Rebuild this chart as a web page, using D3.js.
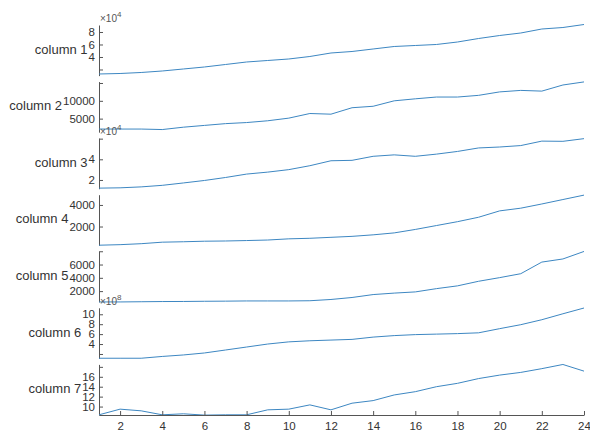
<!DOCTYPE html>
<html>
<head>
<meta charset="utf-8">
<script src="https://cdn.jsdelivr.net/npm/d3@7"></script>
<style>
  body { margin: 0; background: white; }
  svg { font-family: "Liberation Sans", Arial, sans-serif; }
</style>
</head>
<body>
<div id="chart"></div>
<script>
var xValues = [1, 2, 3, 4, 5, 6, 7, 8, 9, 10, 11, 12, 13, 14, 15, 16, 17, 18, 19, 20, 21, 22, 23, 24];

var column1 = [12800, 13600, 15200, 17600, 20800, 24000, 28000, 32000, 34400, 36800, 40800, 46400, 48800, 52800, 56800, 58400, 60000, 64000, 69600, 74400, 78400, 84800, 87200, 92000];
var column2 = [2080, 2080, 2080, 1940, 2600, 3100, 3600, 3900, 4400, 5140, 6440, 6250, 8060, 8470, 10000, 10560, 11060, 11060, 11530, 12500, 12920, 12720, 14440, 15300];
var column3 = [12100, 12400, 13300, 14800, 17100, 19500, 22400, 25700, 27600, 30000, 33800, 38600, 39000, 42900, 44300, 42900, 45000, 47600, 51000, 51900, 53300, 57600, 57400, 60000];
var column4 = [270, 320, 410, 550, 590, 640, 660, 700, 750, 860, 910, 1000, 1090, 1230, 1410, 1730, 2090, 2450, 2860, 3450, 3700, 4090, 4500, 4910];
var column5 = [370, 370, 400, 430, 440, 470, 490, 520, 520, 520, 550, 740, 1040, 1480, 1700, 1880, 2370, 2790, 3480, 4030, 4620, 6370, 6840, 7970];
var column6 = [1.14e8, 1.14e8, 1.14e8, 1.5e8, 1.8e8, 2.2e8, 2.8e8, 3.4e8, 4.0e8, 4.44e8, 4.66e8, 4.8e8, 4.94e8, 5.4e8, 5.7e8, 5.9e8, 6.0e8, 6.1e8, 6.26e8, 7.1e8, 7.9e8, 8.9e8, 10.1e8, 11.26e8];
var column7 = [8.34, 9.48, 9.14, 8.34, 8.54, 8.28, 8.34, 8.34, 9.34, 9.48, 10.34, 9.34, 10.68, 11.2, 12.34, 13.0, 14.0, 14.68, 15.64, 16.34, 16.88, 17.64, 18.48, 17.14];

var names = ["column 1", "column 2", "column 3", "column 4", "column 5", "column 6", "column 7"];
var series = [column1, column2, column3, column4, column5, column6, column7];

// y limits of each panel
var yLimits = [[10200, 91200], [1200, 15400], [11500, 60500], [260, 4950], [380, 8000], [1.1e8, 11.3e8], [8.3, 18.5]];
var yTicks = [
  [20000, 40000, 60000, 80000],
  [5000, 10000, 15000],
  [20000, 40000, 60000],
  [2000, 4000],
  [2000, 4000, 6000, 8000],
  [2e8, 4e8, 6e8, 8e8, 10e8],
  [10, 12, 14, 16, 18]
];
var yTickLabels = [
  ["", "4", "6", "8"],
  ["5000", "10000", ""],
  ["2", "4", ""],
  ["2000", "4000"],
  ["2000", "4000", "6000", ""],
  ["", "4", "6", "8", "10"],
  ["10", "12", "14", "16", ""]
];
var exponents = ["4", "", "4", "", "", "8", ""];
var xTicks = [2, 4, 6, 8, 10, 12, 14, 16, 18, 20, 22, 24];

var width = 590, height = 435;
var plotLeft = 99, plotRight = 584, plotTop = 25, plotBottom = 415;
var textColor = "#333333", axisColor = "#555555", lineColor = "#3d87c2";

var svg = d3.select("#chart").append("svg")
  .attr("width", width)
  .attr("height", height);

var x = d3.scaleLinear().domain([1, 24]).range([plotLeft, plotRight]);

var band = d3.scaleBand()
  .domain(names)
  .range([plotTop, plotBottom])
  .paddingInner(0.105)
  .paddingOuter(0);

names.forEach(function (name, i) {
  var y0 = band(name), y1 = y0 + band.bandwidth();
  var y = d3.scaleLinear().domain(yLimits[i]).range([y1, y0]);
  var g = svg.append("g");

  var axis = g.append("g")
    .attr("transform", "translate(" + plotLeft + ",0)")
    .call(d3.axisLeft(y)
      .tickValues(yTicks[i])
      .tickFormat(function (d, k) { return yTickLabels[i][k]; })
      .tickSizeInner(-4)
      .tickSizeOuter(0)
      .tickPadding(4));
  axis.attr("font-family", null);
  axis.select(".domain").attr("stroke", axisColor);
  axis.selectAll(".tick line").attr("stroke", axisColor);
  axis.selectAll(".tick text")
    .attr("fill", textColor)
    .style("font-size", "11.5px");

  var line = d3.line()
    .x(function (d, k) { return x(xValues[k]); })
    .y(function (d) { return y(d); });

  g.append("path")
    .datum(series[i])
    .attr("d", line)
    .attr("fill", "none")
    .attr("stroke", lineColor)
    .attr("stroke-width", 1);

  // ylabel goes just left of the widest tick label
  var minX = 0;
  axis.selectAll(".tick text").each(function () {
    var b = this.getBBox();
    if (b.width > 0) minX = Math.min(minX, b.x);
  });
  g.append("text")
    .attr("x", plotLeft + minX - 1)
    .attr("y", (y0 + y1) / 2)
    .attr("text-anchor", "end")
    .attr("dominant-baseline", "middle")
    .attr("fill", textColor)
    .style("font-size", "13px")
    .text(name);

  if (exponents[i] != "") {
    var ex = g.append("text")
      .attr("x", plotLeft + 1)
      .attr("y", y0 - 3)
      .attr("fill", "#555555")
      .style("font-size", "10px");
    ex.append("tspan").text("\u00d710");
    ex.append("tspan")
      .attr("dy", -5)
      .style("font-size", "8px")
      .text(exponents[i]);
  }
});

// x axis only under the last panel
var xAxis = svg.append("g")
  .attr("transform", "translate(0," + plotBottom + ")")
  .call(d3.axisBottom(x)
    .tickValues(xTicks)
    .tickSizeInner(-4)
    .tickSizeOuter(0)
    .tickPadding(7));
xAxis.attr("font-family", null);
xAxis.select(".domain").attr("stroke", axisColor);
xAxis.selectAll(".tick line").attr("stroke", axisColor);
xAxis.selectAll(".tick text")
  .attr("fill", textColor)
  .style("font-size", "11.5px");
</script>
</body>
</html>
